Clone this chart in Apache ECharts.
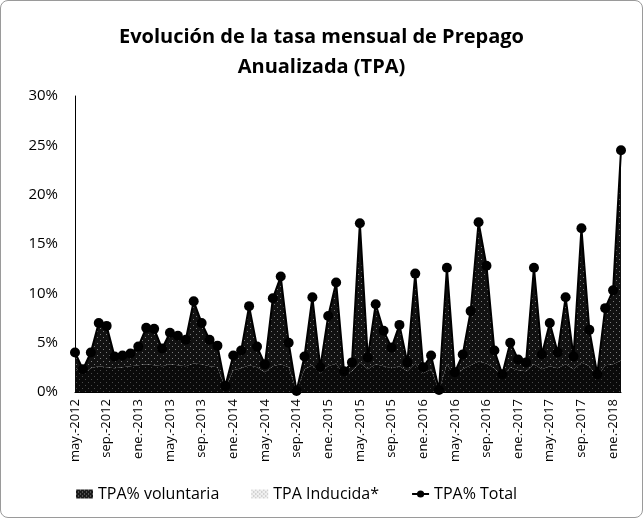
<!DOCTYPE html>
<html>
<head>
<meta charset="utf-8">
<script src="https://cdn.jsdelivr.net/npm/echarts@6/dist/echarts.min.js"></script>
<style>
  html, body { margin: 0; padding: 0; background: #fff; }
  #chart { width: 641px; height: 516px; border: 1px solid #9a9a9a; border-radius: 8px; }
</style>
</head>
<body>
<div id="chart"></div>
<script>
// meses (may.-2012 .. feb.-2018)
const categories = [
  'may.-2012', 'jun.-2012', 'jul.-2012', 'ago.-2012', 'sep.-2012', 'oct.-2012', 'nov.-2012', 'dic.-2012',
  'ene.-2013', 'feb.-2013', 'mar.-2013', 'abr.-2013', 'may.-2013', 'jun.-2013', 'jul.-2013', 'ago.-2013',
  'sep.-2013', 'oct.-2013', 'nov.-2013', 'dic.-2013', 'ene.-2014', 'feb.-2014', 'mar.-2014', 'abr.-2014',
  'may.-2014', 'jun.-2014', 'jul.-2014', 'ago.-2014', 'sep.-2014', 'oct.-2014', 'nov.-2014', 'dic.-2014',
  'ene.-2015', 'feb.-2015', 'mar.-2015', 'abr.-2015', 'may.-2015', 'jun.-2015', 'jul.-2015', 'ago.-2015',
  'sep.-2015', 'oct.-2015', 'nov.-2015', 'dic.-2015', 'ene.-2016', 'feb.-2016', 'mar.-2016', 'abr.-2016',
  'may.-2016', 'jun.-2016', 'jul.-2016', 'ago.-2016', 'sep.-2016', 'oct.-2016', 'nov.-2016', 'dic.-2016',
  'ene.-2017', 'feb.-2017', 'mar.-2017', 'abr.-2017', 'may.-2017', 'jun.-2017', 'jul.-2017', 'ago.-2017',
  'sep.-2017', 'oct.-2017', 'nov.-2017', 'dic.-2017', 'ene.-2018', 'feb.-2018'
]

const voluntaria = [
  2.5, 1.8, 2.4, 2.6, 2.5, 2.4, 2.5, 2.6, 2.7, 2.8, 2.7, 2.6, 2.8, 2.7, 2.6, 2.9,
  2.8, 2.6, 2.5, 0.4, 2.2, 2.4, 2.7, 2.5, 2.0, 2.6, 2.8, 2.5, 0.1, 2.3, 2.7, 1.9,
  2.6, 2.9, 1.7, 2.1, 3.0, 2.3, 2.8, 2.6, 2.4, 2.6, 2.1, 2.9, 1.9, 2.3, 0.1, 2.8,
  1.6, 2.3, 2.7, 3.1, 2.9, 2.4, 1.5, 2.5, 2.2, 2.1, 2.8, 2.3, 2.6, 2.4, 2.8, 2.3,
  3.0, 2.6, 1.5, 2.7, 2.8, 3.2
]

const inducida = [
  1.5, 0.5, 1.6, 4.4, 4.2, 1.2, 1.2, 1.3, 1.9, 3.7, 3.7, 1.8, 3.2, 3.0, 2.7, 6.3,
  4.2, 2.7, 2.2, 0.2, 1.5, 1.8, 6.0, 2.1, 0.8, 6.9, 8.9, 2.5, 0.0, 1.3, 6.9, 0.6,
  5.1, 8.2, 0.4, 0.9, 14.1, 1.2, 6.1, 3.6, 2.1, 4.2, 0.9, 9.1, 0.6, 1.4, 0.1, 9.8,
  0.4, 1.5, 5.5, 14.1, 9.9, 1.8, 0.3, 2.5, 1.1, 0.9, 9.8, 1.5, 4.4, 1.6, 6.8, 1.3,
  13.6, 3.7, 0.3, 5.8, 7.5, 21.3
]

const total = [
  4.0, 2.3, 4.0, 7.0, 6.7, 3.6, 3.7, 3.9, 4.6, 6.5, 6.4, 4.4, 6.0, 5.7, 5.3, 9.2,
  7.0, 5.3, 4.7, 0.6, 3.7, 4.2, 8.7, 4.6, 2.8, 9.5, 11.7, 5.0, 0.1, 3.6, 9.6, 2.5,
  7.7, 11.1, 2.1, 3.0, 17.1, 3.5, 8.9, 6.2, 4.5, 6.8, 3.0, 12.0, 2.5, 3.7, 0.2, 12.6,
  2.0, 3.8, 8.2, 17.2, 12.8, 4.2, 1.8, 5.0, 3.3, 3.0, 12.6, 3.8, 7.0, 4.0, 9.6, 3.6,
  16.6, 6.3, 1.8, 8.5, 10.3, 24.5
]

const yTicks = [0, 5, 10, 15, 20, 25, 30]

// trama punteada
function dotPattern (bg, dot, size) {
  const c = document.createElement('canvas')
  c.width = size
  c.height = size
  const ctx = c.getContext('2d')
  ctx.fillStyle = bg
  ctx.fillRect(0, 0, size, size)
  ctx.fillStyle = dot
  ctx.fillRect(0, 0, 1, 1)
  ctx.fillRect(size / 2, size / 2, 1, 1)
  return c
}

const font = '"Open Sans", Lato, sans-serif'
const chart = echarts.init(document.getElementById('chart'))

chart.setOption({
  animation: false,
  textStyle: { fontFamily: font, color: '#000' },
  title: {
    text: 'Evolución de la tasa mensual de Prepago\nAnualizada (TPA)',
    left: 'center',
    top: 16,
    textStyle: { fontFamily: font, fontSize: 20, fontWeight: 'bold', color: '#000', lineHeight: 30 }
  },
  legend: {
    top: 480,
    left: 70,
    itemGap: 32,
    itemWidth: 17,
    itemHeight: 9,
    textStyle: { fontFamily: font, fontSize: 16, color: '#000' },
    data: [
      { name: 'TPA% voluntaria', icon: 'rect', itemStyle: { color: { image: dotPattern('#1a1a1a', '#8a8a8a', 4), repeat: 'repeat' } } },
      { name: 'TPA Inducida*', icon: 'rect', itemStyle: { color: { image: dotPattern('#f0f0f0', '#9a9a9a', 4), repeat: 'repeat' } } },
      { name: 'TPA% Total' }
    ]
  },
  grid: { left: 74, right: 21, top: 95, bottom: 125 },
  xAxis: {
    type: 'category',
    data: categories,
    boundaryGap: false,
    axisLine: { lineStyle: { color: '#000', width: 1 } },
    axisTick: { show: false },
    axisLabel: { interval: 3, rotate: 90, fontSize: 13, color: '#000', margin: 7 }
  },
  yAxis: {
    type: 'value',
    min: yTicks[0],
    max: yTicks[yTicks.length - 1],
    interval: 5,
    splitLine: { show: false },
    axisLine: { show: true, lineStyle: { color: '#000', width: 1 } },
    axisTick: { show: false },
    axisLabel: { formatter: '{value}%', fontSize: 15, color: '#000', margin: 17 }
  },
  series: [
    {
      name: 'TPA% voluntaria',
      type: 'line',
      stack: 'tpa',
      data: voluntaria,
      symbol: 'none',
      lineStyle: { width: 0 },
      itemStyle: { color: '#1a1a1a' },
      areaStyle: { color: { image: dotPattern('#0a0a0a', '#4a4a4a', 6), repeat: 'repeat' }, opacity: 1 }
    },
    {
      name: 'TPA Inducida*',
      type: 'line',
      stack: 'tpa',
      data: inducida,
      symbol: 'none',
      lineStyle: { width: 0 },
      itemStyle: { color: '#f0f0f0' },
      areaStyle: { color: { image: dotPattern('#111111', '#7a7a7a', 6), repeat: 'repeat' }, opacity: 1 }
    },
    {
      name: 'TPA% Total',
      type: 'line',
      data: total,
      symbol: 'circle',
      symbolSize: 10,
      showAllSymbol: true,
      lineStyle: { color: '#000', width: 2 },
      itemStyle: { color: '#000' },
      z: 5
    }
  ]
})
</script>
</body>
</html>
